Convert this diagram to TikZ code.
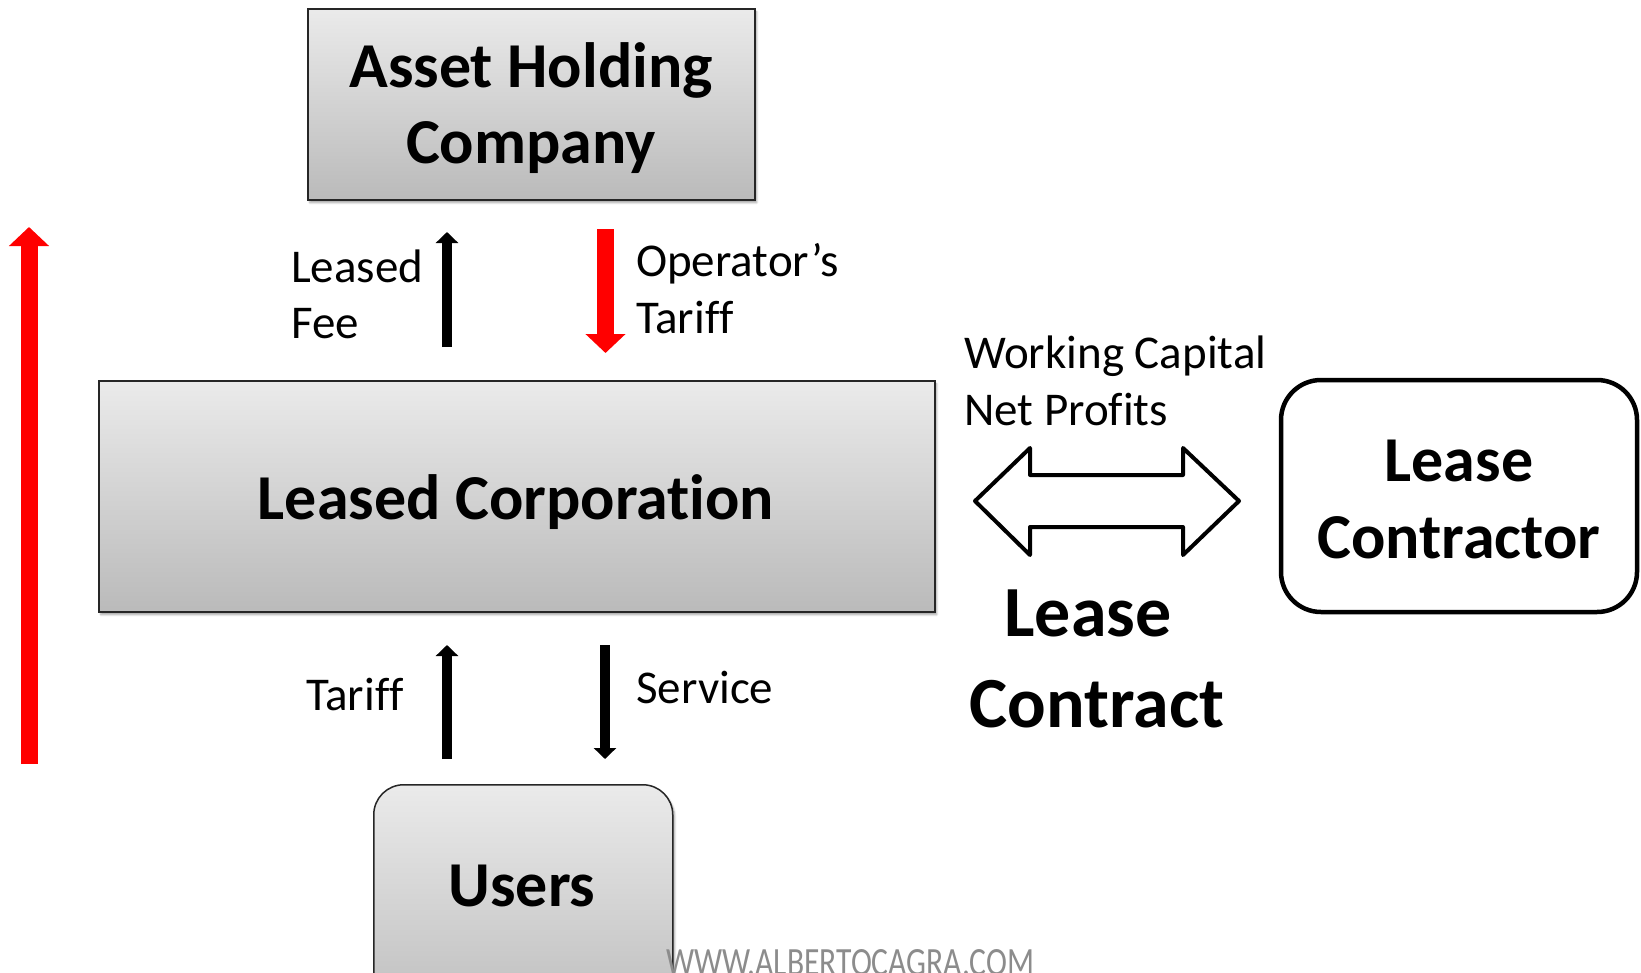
\documentclass[tikz,border=0pt]{standalone}
\usepackage{fontspec}
\usepackage{graphicx}
\setmainfont{Carlito}[Ligatures={NoCommon}]
\usetikzlibrary{arrows.meta,shadows.blur}
\begin{document}
\begin{tikzpicture}[x=1pt,y=-1pt,
  graybox/.style={draw=black!85, line width=1.5pt, top color=black!8, bottom color=black!27,
    blur shadow={shadow xshift=2pt,shadow yshift=-3pt,shadow opacity=35,shadow blur steps=6}},
  whitebox/.style={draw=black, line width=4.5pt, fill=white, rounded corners=40pt},
  title/.style={font=\fontsize{64}{77}\selectfont\bfseries, anchor=base, inner sep=0pt},
  bigtitle/.style={font=\fontsize{72}{88}\selectfont\bfseries, anchor=base, inner sep=0pt},
  lbl/.style={font=\fontsize{47}{56}\selectfont, anchor=base west, inner sep=0pt},
  blkarrow/.style={line width=10pt, -{Triangle[width=22pt,length=11pt]}},
  redarrow/.style={draw=red, line width=17pt, -{Triangle[width=39pt,length=19pt]}},
  dblarrow/.style={draw=black, line width=4pt, line join=round, fill=white},
]
\useasboundingbox (0,0) rectangle (1641,972);
\clip (0,0) rectangle (1641,972);

% boxes
\node[graybox, minimum width=447pt, minimum height=191pt, anchor=north west] (ahc) at (307,8) {};
\node[graybox, minimum width=836pt, minimum height=231pt, anchor=north west] (lcorp) at (98,380) {};
\node[graybox, rounded corners=30pt, minimum width=299pt, minimum height=250pt, anchor=north west] (users) at (373,784) {};
\node[whitebox, minimum width=356pt, minimum height=232pt] (lcontr) at (1459,496) {};

% box texts
\node[title] (tahc1) at (531,87) {Asset Holding};
\node[title] (tahc2) at (531,163) {Company};
\node[title] (tlcorp) at (516,519) {Leased Corporation};
\node[title] (tusers) at (522,906) {Users};
\node[title] (tlc1) at (1459,481) {Lease};
\node[title] (tlc2) at (1459,558) {Contractor};
\node[bigtitle] (tcontract1) at (1088,636) {Lease};
\node[bigtitle] (tcontract2) at (1097,727) {Contract};

% labels
\node[lbl] (lfee1) at (291,282) {Leased};
\node[lbl] (lfee2) at (291,338) {Fee};
\node[lbl] (lop1) at (636,276) {Operator’s};
\node[lbl] (lop2) at (636,333) {Tariff};
\node[lbl] (lwc1) at (964,368) {Working Capital};
\node[lbl] (lwc2) at (964,425) {Net Profits};
\node[lbl] (ltar) at (306,710) {Tariff};
\node[lbl] (lserv) at (636,703) {Service};

% arrow end points
\coordinate (feeS) at (447,347);
\coordinate (feeE) at (447,232);
\coordinate (opS) at (605.5,229);
\coordinate (opE) at (605.5,353);
\coordinate (tarS) at (447,759);
\coordinate (tarE) at (447,645);
\coordinate (servS) at (605,645);
\coordinate (servE) at (605,759);
\coordinate (bigS) at (29,764);
\coordinate (bigE) at (29,227);

\draw[blkarrow] (feeS) -- (feeE);
\draw[redarrow] (opS) -- (opE);
\draw[blkarrow] (tarS) -- (tarE);
\draw[blkarrow] (servS) -- (servE);
\draw[redarrow] (bigS) -- (bigE);

% double block arrow
\draw[dblarrow] (975,501) -- (1030,448) -- (1030,475) -- (1183,475) -- (1183,448)
  -- (1239,501) -- (1183,555) -- (1183,527) -- (1030,527) -- (1030,555) -- cycle;

% watermark
\node[anchor=base west, inner sep=0pt, text=black!45] (wm) at (666,975)
  {\resizebox{368pt}{26pt}{WWW.ALBERTOCAGRA.COM}};
\end{tikzpicture}
\end{document}
